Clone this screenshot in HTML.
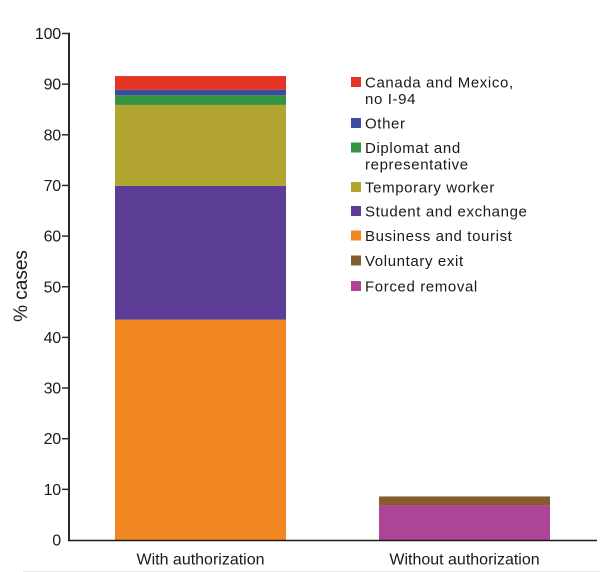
<!DOCTYPE html>
<html>
<head>
<meta charset="utf-8">
<style>
html,body{margin:0;padding:0;background:#fff;}
svg{display:block;}
text{font-family:"Liberation Sans",sans-serif;}
</style>
</head>
<body>
<svg id="chart" width="600" height="572" viewBox="0 0 600 572" xmlns="http://www.w3.org/2000/svg"></svg>
<script>
const categories = ['With authorization', 'Without authorization'];
const seriesNames = ['Business and tourist', 'Student and exchange', 'Temporary worker', 'Diplomat and representative', 'Other', 'Canada and Mexico, no I-94', 'Forced removal', 'Voluntary exit'];
const withAuthorization = [43.5, 26.4, 16.0, 1.9, 1.1, 2.7, 0, 0];
const withoutAuthorization = [0, 0, 0, 0, 0, 0, 6.9, 1.7];
const seriesColors = ['#f18721', '#5b3d96', '#b2a532', '#339340', '#3c4da0', '#e43425', '#ae4496', '#845c2e'];
const yTicks = [0, 10, 20, 30, 40, 50, 60, 70, 80, 90, 100];
const legendOrder = [5, 4, 3, 2, 1, 0, 7, 6];
const legendLines = [['Canada and Mexico,', 'no I-94'], ['Other'], ['Diplomat and', 'representative'], ['Temporary worker'], ['Student and exchange'], ['Business and tourist'], ['Voluntary exit'], ['Forced removal']];
const legendTops = [82, 123, 147.5, 187, 211, 235.5, 260.5, 286];

const NS = 'http://www.w3.org/2000/svg';
const svg = document.getElementById('chart');
const yScale = v => 540 - v * 5.065;
const xBand = i => 115 + i * 264;
const bandWidth = 171;
function make(tag, attrs, text) {
  const el = document.createElementNS(NS, tag);
  for (const k in attrs) el.setAttribute(k, attrs[k]);
  if (text !== undefined) el.textContent = text;
  svg.appendChild(el);
  return el;
}
const rows = [withAuthorization, withoutAuthorization];
rows.forEach((row, c) => {
  let acc = 0;
  row.forEach((v, s) => {
    if (v <= 0) return;
    const r = make('rect', {x: xBand(c), y: yScale(acc + v), width: bandWidth, height: yScale(acc) - yScale(acc + v), fill: seriesColors[s]});
    
    
    acc += v;
  });
});
const yAxis = make('line', {x1: 69, y1: yScale(100) - 0.7, x2: 69, y2: 541, stroke: '#2b2b2b', 'stroke-width': 2});


const xAxis = make('line', {x1: 68, y1: 540.5, x2: 597, y2: 540.5, stroke: '#1a1a1a', 'stroke-width': 1.6});


yTicks.forEach(t => {
  if (t > 0) {
    const m = make('line', {x1: 62, y1: yScale(t), x2: 69, y2: yScale(t), stroke: '#2b2b2b', 'stroke-width': 1.5});
    
    
  }
  const l = make('text', {x: 61, y: yScale(t) + 5.5, 'text-anchor': 'end', 'font-size': 16, 'letter-spacing': -0.2, fill: '#1a1a1a'}, String(t));
  
  
});
categories.forEach((c, i) => {
  const l = make('text', {x: xBand(i) + bandWidth / 2, y: 564.5, 'text-anchor': 'middle', 'font-size': 16, fill: '#1a1a1a'}, c);
  
  
});
const yTitle = make('text', {transform: 'translate(27,286) rotate(-90)', 'text-anchor': 'middle', 'font-size': 19, fill: '#1a1a1a'}, '% cases');


legendOrder.forEach((s, i) => {
  const top = legendTops[i];
  const sw = make('rect', {x: 351, y: top - 5, width: 10, height: 10, fill: seriesColors[s]});
  
  
  legendLines[i].forEach((line, j) => {
    const t = make('text', {x: 365, y: top + 5.5 + j * 16.5, 'font-size': 15, 'letter-spacing': 0.62, fill: '#1a1a1a'}, line);
    
    
  });
});
const rule = make('line', {x1: 23, y1: 571.5, x2: 600, y2: 571.5, stroke: '#e8e8e8', 'stroke-width': 1});


</script>
</body>
</html>
